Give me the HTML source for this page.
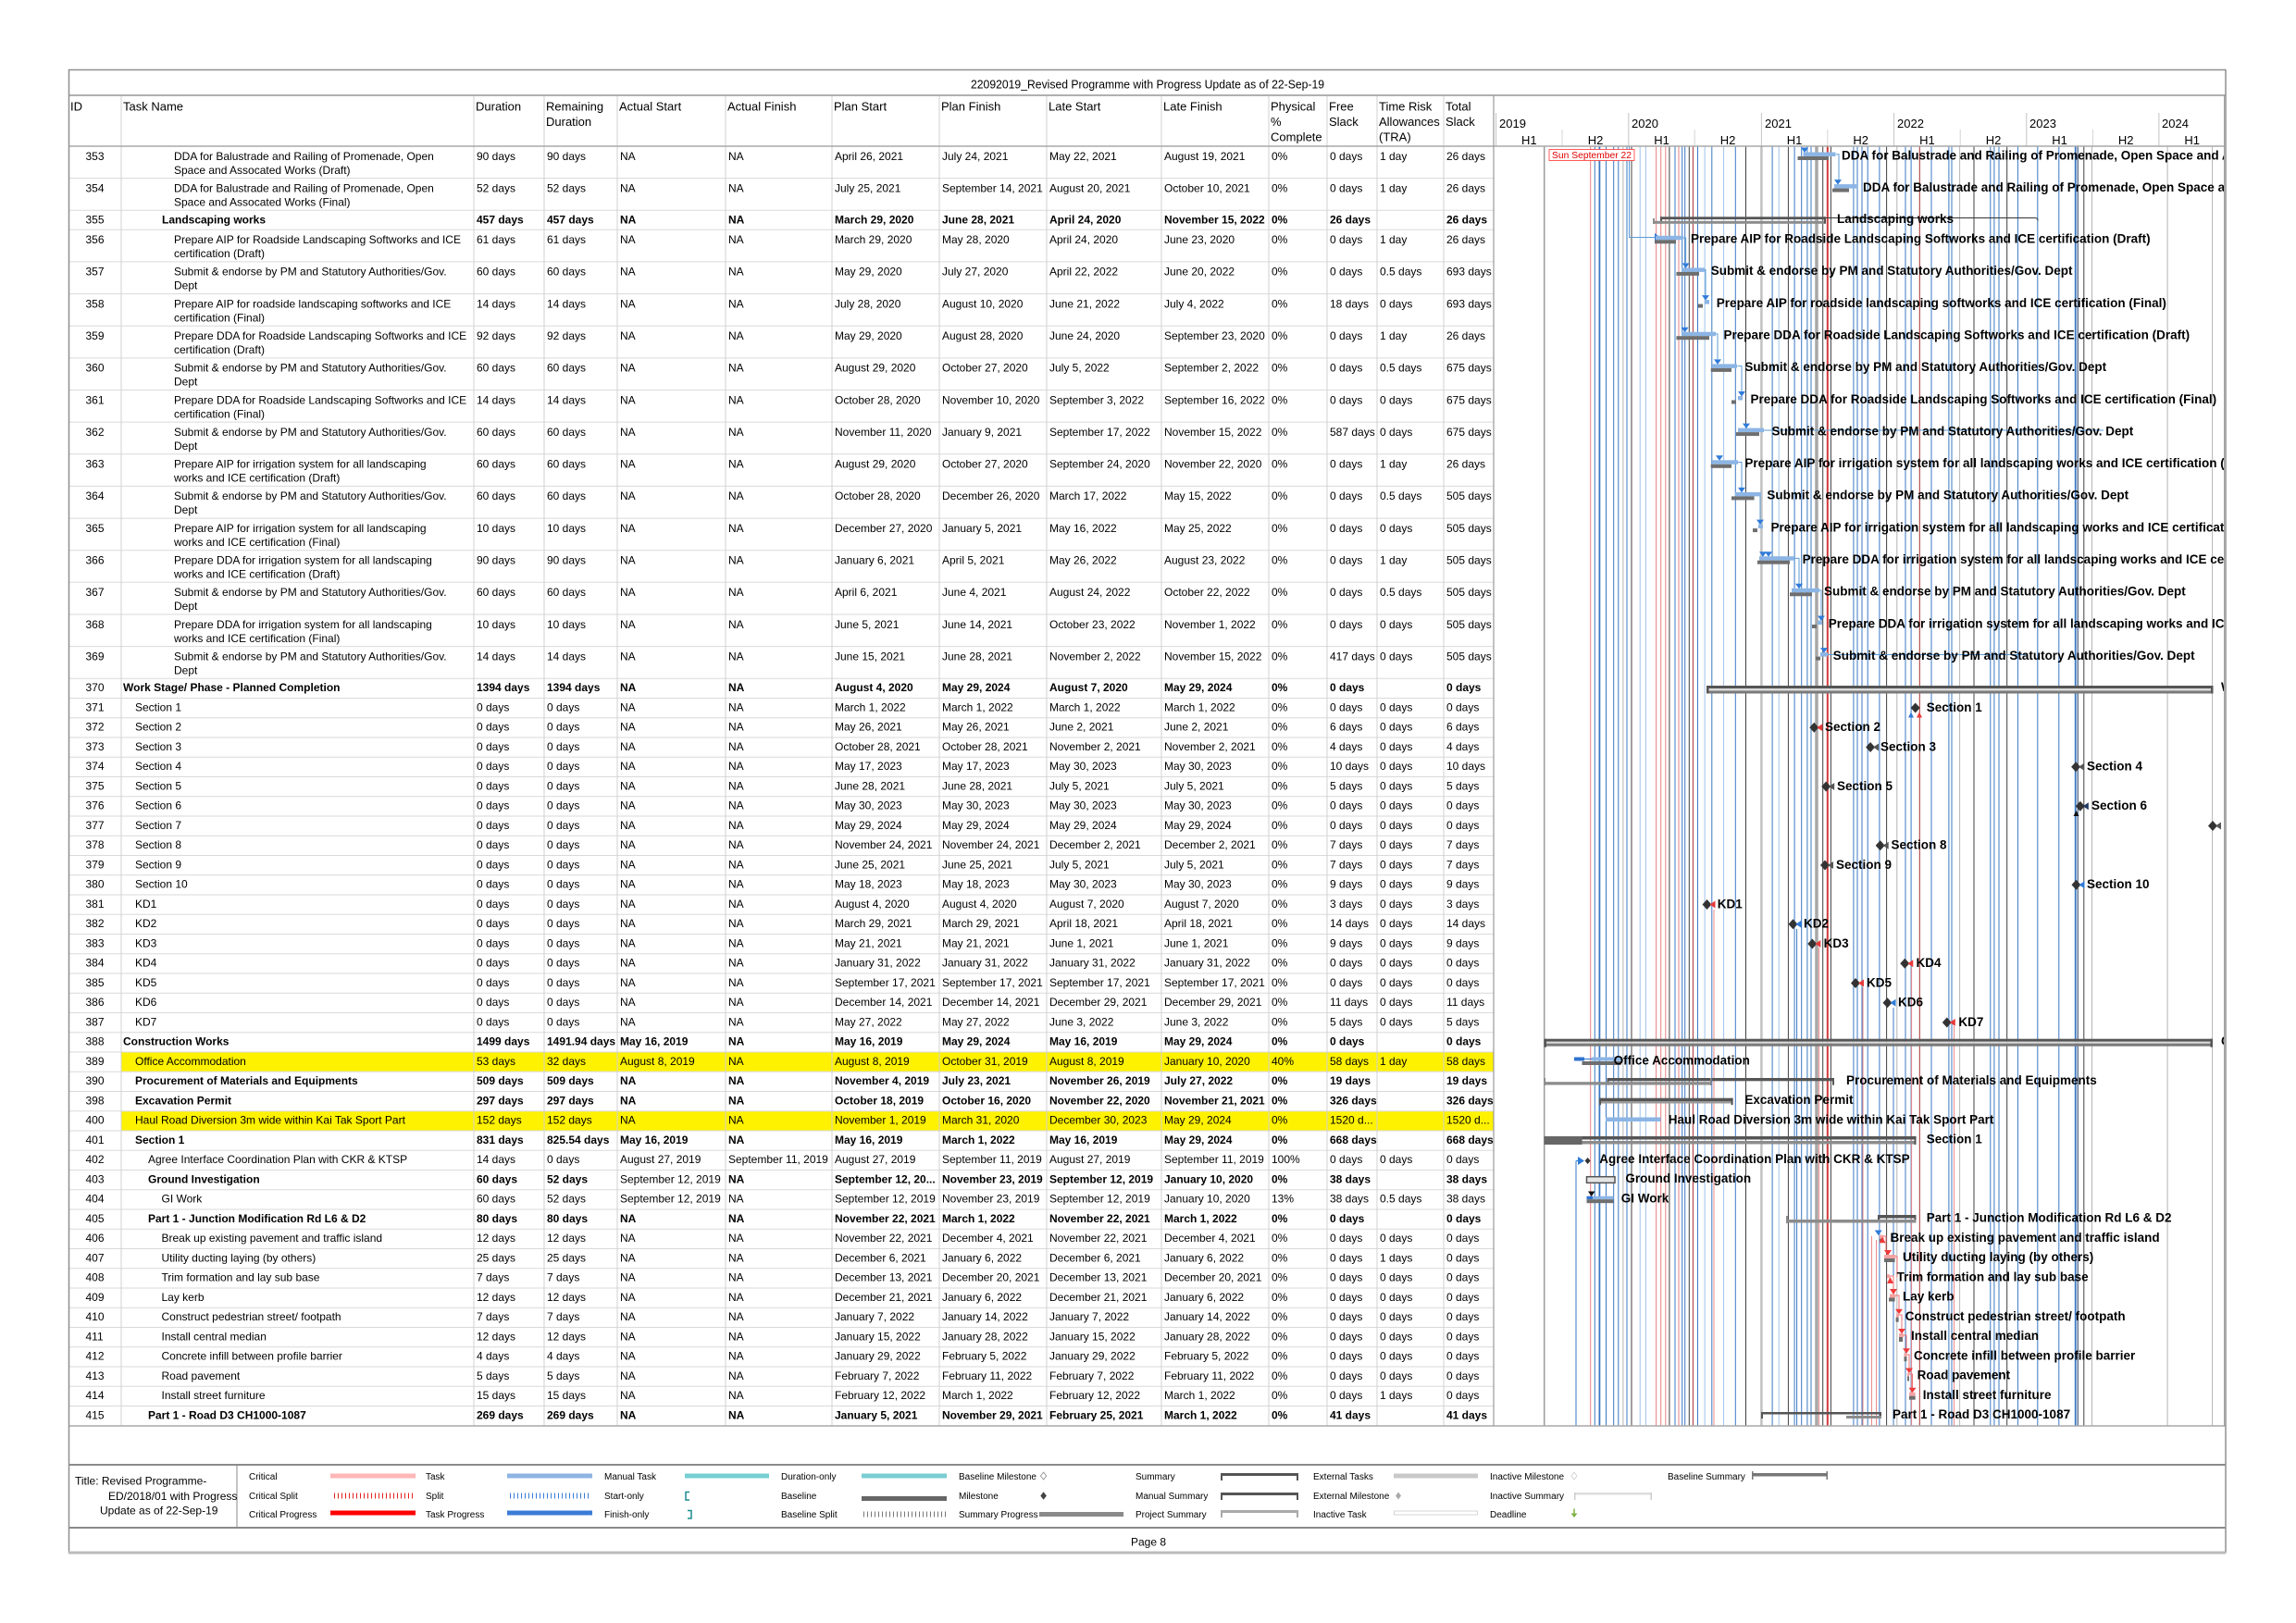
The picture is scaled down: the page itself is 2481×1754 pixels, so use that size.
<!DOCTYPE html>
<html><head><meta charset="utf-8">
<style>
html,body{margin:0;padding:0;background:#fff}
svg{display:block}
text{font-family:"Liberation Sans",Arial,sans-serif;font-size:12px;fill:#000}
text.b,.b{font-weight:bold}
tspan.n{font-weight:normal}
.hd{font-size:13px}
.g{font-weight:bold;font-size:13.5px}
.lg{font-size:10px}
.bl{fill:#8CB5E5}
.gr{fill:#6E6E6E}
.tb{fill:#2F7BD9}
.pk{fill:#F4A3A3}
.rd{fill:#F03A3A}
.sm{fill:#555}
.bs{fill:#8C8C8C}
.dk{fill:#333}
</style></head><body>
<svg xmlns="http://www.w3.org/2000/svg" width="2481" height="1754" viewBox="0 0 2481 1754">
<rect x="0" y="0" width="2481" height="1754" fill="#fff"/>

<!-- yellow highlighted rows -->
<rect x="131.5" y="1137.5" width="1482" height="20.3" fill="#FFF200"/>
<rect x="131.5" y="1201.2" width="1482" height="20.3" fill="#FFF200"/>

<!-- table grid -->
<path d="M74 192.6H1614M74 227.3H1614M74 248.3H1614M74 282.9H1614M74 317.6H1614M74 352.2H1614M74 386.9H1614M74 421.5H1614M74 456.1H1614M74 490.8H1614M74 525.4H1614M74 560.1H1614M74 594.7H1614M74 629.3H1614M74 664H1614M74 698.6H1614M74 733.2H1614M74 754.5H1614M74 775.7H1614M74 797H1614M74 818.2H1614M74 839.5H1614M74 860.7H1614M74 882H1614M74 903.2H1614M74 924.5H1614M74 945.7H1614M74 967H1614M74 988.2H1614M74 1009.5H1614M74 1030.7H1614M74 1052H1614M74 1073.2H1614M74 1094.5H1614M74 1115.7H1614M74 1137H1614M74 1158.2H1614M74 1179.5H1614M74 1200.7H1614M74 1222H1614M74 1243.2H1614M74 1264.5H1614M74 1285.7H1614M74 1307H1614M74 1328.2H1614M74 1349.5H1614M74 1370.7H1614M74 1392H1614M74 1413.2H1614M74 1434.5H1614M74 1455.7H1614M74 1477H1614M74 1498.2H1614M74 1519.5H1614" stroke="#DADADA" stroke-width="1" fill="none"/>
<path d="M131 103V1541M512 103V1541M588 103V1541M667 103V1541M784 103V1541M899 103V1541M1015 103V1541M1131 103V1541M1255 103V1541M1371 103V1541M1434 103V1541M1488 103V1541M1560 103V1541" stroke="#D0D0D0" stroke-width="1" fill="none"/>

<!-- Gantt header separators -->
<path d="M1616.6 122V158M1759.8 122V158M1903.4 122V158M2046.6 122V158M2189.8 122V158M2332.9 122V158" stroke="#C4C4C4" stroke-width="1"/>
<path d="M1688 140V158M1831.2 140V158M1974.8 140V158M2118.2 140V158M2261.4 140V158" stroke="#D4D4D4" stroke-width="1"/>

<!-- Gantt vertical link lines -->
<path d="M1668.7 158V1541" stroke="#9A9A9A" stroke-width="1.5"/>
<path d="M1753.9 158V1541M2049.8 158V1541M2117.6 158V1541M2260.5 158V1541M2342.1 158V1541M2390.6 158V1541" stroke="#B5B5B5" stroke-width="1"/>
<path d="M1903.4 158V1541" stroke="#C0C0C0" stroke-width="2.5"/>
<path d="M1963 158V1541" stroke="#A8A8A8" stroke-width="3.5"/>
<path d="M1723.3 158V1541M1735.5 158V1541M1743.7 158V1541M1748.8 158V1541M1758 158V1541M1810 158V1541M1817.7 158V1541M1820.7 158V1541M1834.5 158V1541M1849.8 158V1541M1875.3 158V1541M1915.1 158V1541M1939.1 158V1541M1946.7 158V1541M1952.9 158V1541M1957 158V1541M2002.9 158V1541M2007 158V1541M2012 158V1541M2018.2 158V1541M2030.9 158V1541M2059 158V1541M2065.1 158V1541M2087 158V1541M2105.9 158V1541M2109 158V1541M2150.8 158V1541M2154.9 158V1541M2160 158V1541M2180.4 158V1541M2201.8 158V1541M2224.8 158V1541" stroke="#3A78C3" stroke-width="1"/>
<path d="M1728.4 158V1541M2242.7 158V1541" stroke="#3A78C3" stroke-width="1.8"/>
<path d="M2245.2 158V1541" stroke="#1F3864" stroke-width="1"/>
<path d="M1772.2 158V1541M1778.4 158V1541M1842.1 158V1541M1862.6 158V1541M1922.2 158V1541" stroke="#9FC3EA" stroke-width="1"/>
<path d="M1718.7 158V1541M1789.6 158V1541M1794.7 158V1541M1799.8 158V1541M1814 158V1541" stroke="#E88080" stroke-width="1"/>
<path d="M1829.4 158V1541M2074.3 158V1541" stroke="#A83030" stroke-width="1"/>
<path d="M1974.8 158V1541" stroke="#D03A3A" stroke-width="2"/>
<path d="M1763 158V1541M1803.9 158V1541M1825.3 158V1541M1886.5 158V1541M1932.4 158V1541M1969.7 158V1541M1978.4 158V1541M2038.6 158V1541M2133 158V1541M2168.7 158V1541M2251.8 158V1541" stroke="#404040" stroke-width="1"/>
<!-- milestone successor lines -->
<path d="M1852 983V1541M1965.6 1024V1541M2065.6 1046V1541M2013 1067V1541M2111.5 1109V1541M2022.5 1336V1541M2027.5 1340V1541" stroke="#EE8A8A" stroke-width="1"/>
<path d="M1941.6 1004V1541M2046 1089V1541M1703 1254.5V1541" stroke="#3A78C3" stroke-width="1"/>
<!-- connectors -->
<path d="M1760.5 158V256.5H1788M1984 166.7H1987V194M1819 257H1821.6V284M1842 291.5H1843V319M1854 360.9H1856V388M1877.5 395.6H1882V423M1878 499.5H1882V527M1903 534H1902V562M1939 603.4H1944V631M1966 638H1968V666M1906 465H2273M1975 707.5H2191" stroke="#5B9BD5" stroke-width="1" fill="none"/>
<path d="M1973 235.5H2199Q2202 235.5 2202 238.5" stroke="#333" stroke-width="1" fill="none"/>
<path d="M2035.6 1336H2038V1352M2048.6 1358H2050V1380M2042 1379H2046V1394M2048.5 1400H2052V1415M2052 1421H2055V1437M2057 1443H2060V1458M2060.3 1464H2063V1479M2063 1485H2066.5V1500" stroke="#EE7070" stroke-width="1" fill="none"/>

<!-- status date box -->
<rect x="1674" y="161.5" width="92" height="12" fill="#fff" stroke="#FF3333" stroke-width="0.8"/>
<text x="1677" y="171" font-size="10.5" textLength="86" lengthAdjust="spacingAndGlyphs" style="fill:#E00000;font-size:10.5px">Sun September 22</text>

<!-- ================= Gantt bars ================= -->
<!-- 353 -->
<polygon class="tb" points="1946,159.5 1954,159.5 1950,165"/>
<rect class="bl" x="1948.5" y="164.5" width="35" height="4.5"/>
<rect class="gr" x="1942.5" y="169" width="33.5" height="4"/>
<text class="g" x="1990" y="172.3">DDA for Balustrade and Railing of Promenade, Open Space and Assocated Works (Draft)</text>
<!-- 354 -->
<polygon class="tb" points="1982,194.1 1990,194.1 1986,199.6"/>
<rect class="bl" x="1982" y="199.1" width="24" height="4.5"/>
<rect class="gr" x="1980" y="203.6" width="18" height="4"/>
<text class="g" x="2013" y="206.9">DDA for Balustrade and Railing of Promenade, Open Space and Assocated Works (Final)</text>
<!-- 355 summary -->
<rect class="sm" x="1794" y="234.3" width="179" height="2.8"/>
<rect class="sm" x="1794" y="234.3" width="2" height="7.5"/>
<rect class="sm" x="1971" y="234.3" width="2" height="7.5"/>
<rect class="bs" x="1786" y="238.8" width="185" height="3"/>
<rect class="bs" x="1786" y="236" width="2" height="6"/>
<text class="g" x="1985" y="241">Landscaping works</text>
<!-- 356 -->
<polygon class="tb" points="1788,252 1788,261 1794,256.5"/>
<rect class="bl" x="1789" y="254.8" width="30" height="4.5"/>
<rect class="gr" x="1788" y="259.3" width="23" height="4"/>
<text class="g" x="1827" y="262.6">Prepare AIP for Roadside Landscaping Softworks and ICE certification (Draft)</text>
<!-- 357 -->
<polygon class="tb" points="1817.6,284.4 1825.6,284.4 1821.6,289.9"/>
<rect class="bl" x="1817" y="289.4" width="25" height="4.5"/>
<rect class="gr" x="1811.5" y="293.9" width="24.5" height="4"/>
<text class="g" x="1848.7" y="297.2">Submit &amp; endorse by PM and Statutory Authorities/Gov. Dept</text>
<!-- 358 -->
<polygon class="tb" points="1839,319.1 1847,319.1 1843,324.6"/>
<rect class="bl" x="1842" y="324.1" width="5" height="4.5"/>
<rect class="gr" x="1835" y="328.6" width="5" height="4"/>
<text class="g" x="1854.8" y="331.9">Prepare AIP for roadside landscaping softworks and ICE certification (Final)</text>
<!-- 359 -->
<polygon class="tb" points="1816.6,353.7 1824.6,353.7 1820.6,359.2"/>
<rect class="bl" x="1817" y="358.7" width="37" height="4.5"/>
<rect class="gr" x="1811.5" y="363.2" width="35.5" height="4"/>
<text class="g" x="1862.5" y="366.5">Prepare DDA for Roadside Landscaping Softworks and ICE certification (Draft)</text>
<!-- 360 -->
<polygon class="tb" points="1852,388.4 1860,388.4 1856,393.9"/>
<rect class="bl" x="1850" y="393.4" width="27" height="4.5"/>
<rect class="gr" x="1848.7" y="397.9" width="22.3" height="4"/>
<text class="g" x="1885.4" y="401.2">Submit &amp; endorse by PM and Statutory Authorities/Gov. Dept</text>
<!-- 361 -->
<polygon class="tb" points="1878,423 1886,423 1882,428.5"/>
<rect class="bl" x="1878" y="428" width="5" height="4.5"/>
<rect class="gr" x="1871" y="432.5" width="5" height="4"/>
<text class="g" x="1891.5" y="435.8">Prepare DDA for Roadside Landscaping Softworks and ICE certification (Final)</text>
<!-- 362 -->
<polygon class="tb" points="1883,457.6 1891,457.6 1887,463.1"/>
<rect class="bl" x="1878" y="462.6" width="28" height="4.5"/>
<rect class="gr" x="1876" y="467.1" width="25" height="4"/>
<text class="g" x="1914.5" y="470.4">Submit &amp; endorse by PM and Statutory Authorities/Gov. Dept</text>
<!-- 363 -->
<polygon class="tb" points="1854,492.3 1862,492.3 1858,497.8"/>
<rect class="bl" x="1850" y="497.3" width="28" height="4.5"/>
<rect class="gr" x="1848.7" y="501.8" width="22.3" height="4"/>
<text class="g" x="1885.4" y="505.1">Prepare AIP for irrigation system for all landscaping works and ICE certification (Draft)</text>
<!-- 364 -->
<polygon class="tb" points="1878,526.9 1886,526.9 1882,532.4"/>
<rect class="bl" x="1875" y="531.9" width="28" height="4.5"/>
<rect class="gr" x="1871" y="536.4" width="24.6" height="4"/>
<text class="g" x="1909.4" y="539.7">Submit &amp; endorse by PM and Statutory Authorities/Gov. Dept</text>
<!-- 365 -->
<polygon class="tb" points="1898,561.6 1906,561.6 1902,567.1"/>
<rect class="bl" x="1900" y="566.6" width="5" height="4.5"/>
<rect class="gr" x="1894" y="571.1" width="5" height="4"/>
<text class="g" x="1913.5" y="574.4">Prepare AIP for irrigation system for all landscaping works and ICE certification (Final)</text>
<!-- 366 -->
<polygon class="tb" points="1901,596.2 1909,596.2 1905,601.7"/>
<polygon class="tb" points="1907,596.2 1915,596.2 1911,601.7"/>
<rect class="bl" x="1901" y="601.2" width="38" height="4.5"/>
<rect class="gr" x="1899" y="605.7" width="35" height="4"/>
<text class="g" x="1947.6" y="609">Prepare DDA for irrigation system for all landscaping works and ICE certification (Draft)</text>
<!-- 367 -->
<polygon class="tb" points="1940,630.8 1948,630.8 1944,636.3"/>
<rect class="bl" x="1936" y="635.8" width="30" height="4.5"/>
<rect class="gr" x="1934" y="640.3" width="24" height="4"/>
<text class="g" x="1971" y="643.6">Submit &amp; endorse by PM and Statutory Authorities/Gov. Dept</text>
<!-- 368 -->
<polygon class="tb" points="1964,665.5 1972,665.5 1968,671"/>
<rect class="bl" x="1964" y="670.5" width="5" height="4.5"/>
<rect class="gr" x="1958" y="675" width="5" height="4"/>
<text class="g" x="1975.7" y="678.3">Prepare DDA for irrigation system for all landscaping works and ICE certification (Final)</text>
<!-- 369 -->
<polygon class="tb" points="1967,700.1 1975,700.1 1971,705.6"/>
<rect class="bl" x="1967" y="705.1" width="8" height="4.5"/>
<rect class="gr" x="1962" y="709.6" width="5" height="4"/>
<text class="g" x="1980.8" y="712.9">Submit &amp; endorse by PM and Statutory Authorities/Gov. Dept</text>
<!-- 370 -->
<rect x="1844.5" y="741" width="547" height="3" fill="#555"/>
<rect x="1844.5" y="744" width="547" height="2.5" fill="#DADADA"/>
<rect x="1844.5" y="746.5" width="547" height="3" fill="#7A7A7A"/>
<rect x="1844" y="741" width="2.5" height="8.5" fill="#555"/>
<rect x="2389" y="741" width="2.5" height="8.5" fill="#555"/>
<text class="g" x="2400" y="746.9">Work Stage/ Phase - Planned Completion</text>

<!-- milestones 371-387 -->
<polygon class="dk" points="2064.7,765 2069.7,759.5 2074.7,765 2069.7,770.5"/>
<polygon points="2062,775.5 2068,775.5 2065,769.5" fill="#2F7BD9"/>
<polygon points="2071,775.5 2077,775.5 2074,769.5" fill="#E83A3A"/>
<text class="g" x="2081.7" y="769">Section 1</text>

<polygon class="dk" points="1955.3,786.2 1960.3,780.7 1965.3,786.2 1960.3,791.7"/>
<polygon points="1969.3,782.2 1969.3,790.2 1963.3,786.2" fill="#E83A3A"/>
<text class="g" x="1972" y="790.2">Section 2</text>

<polygon class="dk" points="2016.1,807.5 2021.1,802 2026.1,807.5 2021.1,813"/>
<polygon points="2030.1,803.5 2030.1,811.5 2024.1,807.5" fill="#555"/>
<text class="g" x="2032" y="811.5">Section 3</text>

<polygon class="dk" points="2238.1,828.7 2243.1,823.2 2248.1,828.7 2243.1,834.2"/>
<polygon points="2252.1,824.7 2252.1,832.7 2246.1,828.7" fill="#555"/>
<text class="g" x="2255" y="832.7">Section 4</text>

<polygon class="dk" points="1968.2,850 1973.2,844.5 1978.2,850 1973.2,855.5"/>
<polygon points="1982.2,846 1982.2,854 1976.2,850" fill="#555"/>
<text class="g" x="1985" y="854">Section 5</text>

<polygon class="dk" points="2242.8,871.2 2247.8,865.7 2252.8,871.2 2247.8,876.7"/>
<polygon points="2256.8,867.2 2256.8,875.2 2250.8,871.2" fill="#1F3864"/>
<polygon points="2240.5,882 2246.5,882 2243.5,876" fill="#111"/>
<text class="g" x="2260" y="875.2">Section 6</text>

<polygon class="dk" points="2386,892.5 2391,887 2396,892.5 2391,898"/>
<polygon points="2400,888.5 2400,896.5 2394,892.5" fill="#555"/>
<text class="g" x="2403" y="896.5">Section 7</text>

<polygon class="dk" points="2026.7,913.7 2031.7,908.2 2036.7,913.7 2031.7,919.2"/>
<polygon points="2040.7,909.7 2040.7,917.7 2034.7,913.7" fill="#555"/>
<text class="g" x="2043.5" y="917.7">Section 8</text>

<polygon class="dk" points="1967,935 1972,929.5 1977,935 1972,940.5"/>
<polygon points="1981,931 1981,939 1975,935" fill="#555"/>
<text class="g" x="1984" y="939">Section 9</text>

<polygon class="dk" points="2238.5,956.2 2243.5,950.7 2248.5,956.2 2243.5,961.7"/>
<polygon points="2252.5,952.2 2252.5,960.2 2246.5,956.2" fill="#2F7BD9"/>
<text class="g" x="2255" y="960.2">Section 10</text>

<polygon class="dk" points="1839.5,977.5 1844.5,972 1849.5,977.5 1844.5,983"/>
<polygon points="1853.5,973.5 1853.5,981.5 1847.5,977.5" fill="#E83A3A"/>
<text class="g" x="1855.8" y="981.5">KD1</text>

<polygon class="dk" points="1932.5,998.7 1937.5,993.2 1942.5,998.7 1937.5,1004.2"/>
<polygon points="1946.5,994.7 1946.5,1002.7 1940.5,998.7" fill="#2F7BD9"/>
<text class="g" x="1949" y="1002.7">KD2</text>

<polygon class="dk" points="1953.3,1020 1958.3,1014.5 1963.3,1020 1958.3,1025.5"/>
<polygon points="1967.3,1016 1967.3,1024 1961.3,1020" fill="#E83A3A"/>
<text class="g" x="1970.6" y="1024">KD3</text>

<polygon class="dk" points="2053.3,1041.2 2058.3,1035.7 2063.3,1041.2 2058.3,1046.7"/>
<polygon points="2067.3,1037.2 2067.3,1045.2 2061.3,1041.2" fill="#E83A3A"/>
<text class="g" x="2070.5" y="1045.2">KD4</text>

<polygon class="dk" points="2000,1062.5 2005,1057 2010,1062.5 2005,1068"/>
<polygon points="2014,1058.5 2014,1066.5 2008,1062.5" fill="#E83A3A"/>
<text class="g" x="2017" y="1066.5">KD5</text>

<polygon class="dk" points="2034.5,1083.7 2039.5,1078.2 2044.5,1083.7 2039.5,1089.2"/>
<polygon points="2048.5,1079.7 2048.5,1087.7 2042.5,1083.7" fill="#2F7BD9"/>
<text class="g" x="2051" y="1087.7">KD6</text>

<polygon class="dk" points="2098.8,1105 2103.8,1099.5 2108.8,1105 2103.8,1110.5"/>
<polygon points="2112.8,1101 2112.8,1109 2106.8,1105" fill="#E83A3A"/>
<text class="g" x="2116.4" y="1109">KD7</text>

<!-- 388 -->
<rect x="1669" y="1122.7" width="722" height="3" fill="#555"/>
<rect x="1669" y="1125.7" width="722" height="2" fill="#D8D8D8"/>
<rect x="1669" y="1127.7" width="722" height="3" fill="#7A7A7A"/>
<rect x="1668.5" y="1122.7" width="2.5" height="9" fill="#555"/>
<rect x="2388.5" y="1122.7" width="2.5" height="9" fill="#555"/>
<text class="g" x="2400" y="1129.4">Construction Works</text>
<!-- 389 -->
<rect x="1701" y="1142.5" width="11" height="4" fill="#2F74D0"/>
<path d="M1712 1144.5H1720" stroke="#2F74D0" stroke-width="1"/>
<rect class="bl" x="1719.6" y="1142.5" width="32.4" height="4"/>
<rect class="gr" x="1709.5" y="1147" width="42.3" height="4"/>
<text class="g" x="1743.6" y="1150.7">Office Accommodation</text>
<!-- 390 -->
<rect class="sm" x="1736.5" y="1165" width="245.5" height="3.3"/>
<rect class="sm" x="1736.5" y="1165" width="2" height="7.7"/>
<rect class="sm" x="1980" y="1165" width="2" height="7.7"/>
<rect class="bs" x="1668.6" y="1169.2" width="181" height="3.3"/>
<rect class="bs" x="1668.6" y="1165" width="1.5" height="8"/>
<rect class="bs" x="1848" y="1165" width="1.5" height="8"/>
<text class="g" x="1995" y="1171.9">Procurement of Materials and Equipments</text>
<!-- 398 -->
<rect class="sm" x="1728" y="1186.7" width="144.6" height="3.3"/>
<rect x="1728" y="1190" width="144.6" height="2.5" fill="#999"/>
<rect class="sm" x="1728" y="1186.7" width="2" height="7.5"/>
<rect class="sm" x="1870.6" y="1186.7" width="2" height="7.5"/>
<text class="g" x="1885.4" y="1193.2">Excavation Permit</text>
<!-- 400 -->
<rect class="bl" x="1735" y="1207.5" width="59.6" height="4.5"/>
<text class="g" x="1802.8" y="1214.4">Haul Road Diversion 3m wide within Kai Tak Sport Part</text>
<!-- 401 -->
<rect class="sm" x="1668.6" y="1228" width="402" height="3.5"/>
<rect x="1668.6" y="1228" width="41" height="9" fill="#666"/>
<rect class="bs" x="1709.5" y="1233" width="359.5" height="3.5"/>
<rect class="sm" x="2068.5" y="1228" width="2" height="9"/>
<text class="g" x="2081.7" y="1235.7">Section 1</text>
<!-- 402 -->
<path d="M1703 1254.5H1705" stroke="#2F7BD9" stroke-width="1"/>
<polygon class="tb" points="1705,1250 1705,1259 1712,1254.5"/>
<polygon class="dk" points="1712.6,1254.5 1715.6,1251 1718.6,1254.5 1715.6,1258"/>
<text class="g" x="1728.3" y="1256.9">Agree Interface Coordination Plan with CKR &amp; KTSP</text>
<!-- 403 -->
<rect x="1714.5" y="1271.7" width="30.5" height="6.6" fill="#E5E5E5" stroke="#555" stroke-width="1.5"/>
<text class="g" x="1756.4" y="1278.2">Ground Investigation</text>
<!-- 404 -->
<polygon points="1716,1287.5 1723.5,1287.5 1719.7,1293" fill="#111"/>
<rect x="1714.5" y="1292.7" width="6.5" height="3.5" fill="#2F74D0"/>
<rect class="bl" x="1721" y="1292.7" width="22.6" height="3.5"/>
<rect class="gr" x="1714.5" y="1296.2" width="29" height="4"/>
<text class="g" x="1751.8" y="1299.4">GI Work</text>
<!-- 405 -->
<rect class="sm" x="2029" y="1313" width="41.5" height="3.5"/>
<rect class="sm" x="2029" y="1313" width="2" height="8"/>
<rect class="sm" x="2068.5" y="1313" width="2" height="8"/>
<rect class="bs" x="1930" y="1318" width="140.5" height="3.5"/>
<rect class="bs" x="1930" y="1314" width="2" height="8"/>
<text class="g" x="2081.7" y="1320.7">Part 1 - Junction Modification Rd L6 &amp; D2</text>
<!-- 406 -->
<polygon class="tb" points="2025.7,1329.5 2033.7,1329.5 2029.7,1335"/>
<rect class="pk" x="2030.9" y="1334.7" width="4.7" height="4"/>
<rect class="gr" x="2030.9" y="1338.7" width="4.7" height="4"/>
<polygon class="rd" points="2030.5,1343.2 2037.5,1343.2 2034,1336.7"/>
<text class="g" x="2042.5" y="1341.9">Break up existing pavement and traffic island</text>
<!-- 407 -->
<polygon class="rd" points="2036,1351 2044,1351 2040,1357"/>
<rect class="pk" x="2036" y="1356" width="12.6" height="4"/>
<rect class="gr" x="2036" y="1360" width="11.6" height="4"/>
<text class="g" x="2056" y="1363.2">Utility ducting laying (by others)</text>
<!-- 408 -->
<rect class="pk" x="2039" y="1377.2" width="3" height="4"/>
<polygon class="rd" points="2039,1387 2046,1387 2042.5,1380"/>
<text class="g" x="2049.6" y="1384.4">Trim formation and lay sub base</text>
<!-- 409 -->
<polygon class="rd" points="2042,1393 2050,1393 2046,1399"/>
<rect class="pk" x="2042" y="1398.5" width="6.5" height="4"/>
<rect class="gr" x="2041" y="1402.5" width="6.6" height="4"/>
<text class="g" x="2056" y="1405.7">Lay kerb</text>
<!-- 410 -->
<polygon class="rd" points="2048,1414.7 2056,1414.7 2052,1420.2"/>
<rect class="pk" x="2049" y="1419.7" width="3" height="4"/>
<rect class="gr" x="2048.6" y="1423.7" width="3" height="5"/>
<text class="g" x="2058.8" y="1426.9">Construct pedestrian street/ footpath</text>
<!-- 411 -->
<polygon class="rd" points="2051,1436 2059,1436 2055,1441.5"/>
<rect class="pk" x="2052" y="1441" width="5" height="4"/>
<rect class="gr" x="2052" y="1445" width="4" height="5"/>
<text class="g" x="2065" y="1448.2">Install central median</text>
<!-- 412 -->
<polygon class="rd" points="2056,1457.2 2064,1457.2 2060,1462.7"/>
<rect class="pk" x="2057.5" y="1462.2" width="3" height="4"/>
<rect class="gr" x="2057.5" y="1466.2" width="3" height="5"/>
<text class="g" x="2068" y="1469.4">Concrete infill between profile barrier</text>
<!-- 413 -->
<polygon class="rd" points="2059,1478.5 2067,1478.5 2063,1484"/>
<rect class="pk" x="2061" y="1483.5" width="2" height="4"/>
<rect class="gr" x="2061" y="1487.5" width="2" height="5"/>
<text class="g" x="2071.6" y="1490.7">Road pavement</text>
<!-- 414 -->
<polygon class="rd" points="2062.5,1499.7 2070.5,1499.7 2066.5,1505.2"/>
<rect class="pk" x="2063" y="1504.7" width="6.7" height="4"/>
<rect class="gr" x="2063" y="1508.7" width="6.7" height="4"/>
<text class="g" x="2077.7" y="1511.9">Install street furniture</text>
<!-- 415 -->
<rect class="sm" x="1903" y="1526" width="130" height="2.5"/>
<rect class="sm" x="1903" y="1526" width="2" height="7"/>
<rect class="sm" x="2031" y="1526" width="2" height="7"/>
<rect class="bs" x="1995" y="1530" width="38" height="3"/>
<text class="g" x="2045" y="1533.2">Part 1 - Road D3 CH1000-1087</text>

<!-- cover overflow at right of Gantt -->
<rect x="2404" y="100" width="77" height="1445" fill="#fff"/>

<!-- ================= Table text ================= -->
<text x="1240" y="95.5" text-anchor="middle" textLength="382" lengthAdjust="spacingAndGlyphs" style="font-size:12.5px">22092019_Revised Programme with Progress Update as of 22-Sep-19</text>

<text class="hd" y="119.5"><tspan x="76">ID</tspan><tspan x="133">Task Name</tspan><tspan x="514">Duration</tspan><tspan x="590">Remaining</tspan><tspan x="669">Actual Start</tspan><tspan x="786">Actual Finish</tspan><tspan x="901">Plan Start</tspan><tspan x="1017">Plan Finish</tspan><tspan x="1133">Late Start</tspan><tspan x="1257">Late Finish</tspan><tspan x="1373">Physical</tspan><tspan x="1436">Free</tspan><tspan x="1490">Time Risk</tspan><tspan x="1562">Total</tspan></text>
<text class="hd" y="136"><tspan x="590">Duration</tspan><tspan x="1373">%</tspan><tspan x="1436">Slack</tspan><tspan x="1490">Allowances</tspan><tspan x="1562">Slack</tspan></text>
<text class="hd" y="152.5"><tspan x="1373">Complete</tspan><tspan x="1490">(TRA)</tspan></text>

<text class="hd" y="138"><tspan x="1620">2019</tspan><tspan x="1763">2020</tspan><tspan x="1907">2021</tspan><tspan x="2050">2022</tspan><tspan x="2193">2023</tspan><tspan x="2336">2024</tspan></text>
<text class="hd" y="156"><tspan x="1644">H1</tspan><tspan x="1715.7">H2</tspan><tspan x="1787.2">H1</tspan><tspan x="1858.7">H2</tspan><tspan x="1930.7">H1</tspan><tspan x="2002.4">H2</tspan><tspan x="2074.1">H1</tspan><tspan x="2145.7">H2</tspan><tspan x="2217.3">H1</tspan><tspan x="2288.9">H2</tspan><tspan x="2360.4">H1</tspan></text>

<!-- rows -->
<text y="172.8"><tspan x="92.5">353</tspan><tspan x="188">DDA for Balustrade and Railing of Promenade, Open</tspan><tspan x="515">90 days</tspan><tspan x="591">90 days</tspan><tspan x="670">NA</tspan><tspan x="787">NA</tspan><tspan x="902">April 26, 2021</tspan><tspan x="1018">July 24, 2021</tspan><tspan x="1134">May 22, 2021</tspan><tspan x="1258">August 19, 2021</tspan><tspan x="1374">0%</tspan><tspan x="1437">0 days</tspan><tspan x="1491">1 day</tspan><tspan x="1563">26 days</tspan></text>
<text x="188" y="187.8">Space and Assocated Works (Draft)</text>

<text y="207.4"><tspan x="92.5">354</tspan><tspan x="188">DDA for Balustrade and Railing of Promenade, Open</tspan><tspan x="515">52 days</tspan><tspan x="591">52 days</tspan><tspan x="670">NA</tspan><tspan x="787">NA</tspan><tspan x="902">July 25, 2021</tspan><tspan x="1018">September 14, 2021</tspan><tspan x="1134">August 20, 2021</tspan><tspan x="1258">October 10, 2021</tspan><tspan x="1374">0%</tspan><tspan x="1437">0 days</tspan><tspan x="1491">1 day</tspan><tspan x="1563">26 days</tspan></text>
<text x="188" y="222.4">Space and Assocated Works (Final)</text>

<text class="b" y="241.3"><tspan x="92.5" class="n">355</tspan><tspan x="175">Landscaping works</tspan><tspan x="515">457 days</tspan><tspan x="591">457 days</tspan><tspan x="670">NA</tspan><tspan x="787">NA</tspan><tspan x="902">March 29, 2020</tspan><tspan x="1018">June 28, 2021</tspan><tspan x="1134">April 24, 2020</tspan><tspan x="1258">November 15, 2022</tspan><tspan x="1374">0%</tspan><tspan x="1437">26 days</tspan><tspan x="1563">26 days</tspan></text>

<text y="263.1"><tspan x="92.5">356</tspan><tspan x="188">Prepare AIP for Roadside Landscaping Softworks and ICE</tspan><tspan x="515">61 days</tspan><tspan x="591">61 days</tspan><tspan x="670">NA</tspan><tspan x="787">NA</tspan><tspan x="902">March 29, 2020</tspan><tspan x="1018">May 28, 2020</tspan><tspan x="1134">April 24, 2020</tspan><tspan x="1258">June 23, 2020</tspan><tspan x="1374">0%</tspan><tspan x="1437">0 days</tspan><tspan x="1491">1 day</tspan><tspan x="1563">26 days</tspan></text>
<text x="188" y="278.1">certification (Draft)</text>

<text y="297.7"><tspan x="92.5">357</tspan><tspan x="188">Submit &amp; endorse by PM and Statutory Authorities/Gov.</tspan><tspan x="515">60 days</tspan><tspan x="591">60 days</tspan><tspan x="670">NA</tspan><tspan x="787">NA</tspan><tspan x="902">May 29, 2020</tspan><tspan x="1018">July 27, 2020</tspan><tspan x="1134">April 22, 2022</tspan><tspan x="1258">June 20, 2022</tspan><tspan x="1374">0%</tspan><tspan x="1437">0 days</tspan><tspan x="1491">0.5 days</tspan><tspan x="1563">693 days</tspan></text>
<text x="188" y="312.7">Dept</text>

<text y="332.4"><tspan x="92.5">358</tspan><tspan x="188">Prepare AIP for roadside landscaping softworks and ICE</tspan><tspan x="515">14 days</tspan><tspan x="591">14 days</tspan><tspan x="670">NA</tspan><tspan x="787">NA</tspan><tspan x="902">July 28, 2020</tspan><tspan x="1018">August 10, 2020</tspan><tspan x="1134">June 21, 2022</tspan><tspan x="1258">July 4, 2022</tspan><tspan x="1374">0%</tspan><tspan x="1437">18 days</tspan><tspan x="1491">0 days</tspan><tspan x="1563">693 days</tspan></text>
<text x="188" y="347.4">certification (Final)</text>

<text y="367"><tspan x="92.5">359</tspan><tspan x="188">Prepare DDA for Roadside Landscaping Softworks and ICE</tspan><tspan x="515">92 days</tspan><tspan x="591">92 days</tspan><tspan x="670">NA</tspan><tspan x="787">NA</tspan><tspan x="902">May 29, 2020</tspan><tspan x="1018">August 28, 2020</tspan><tspan x="1134">June 24, 2020</tspan><tspan x="1258">September 23, 2020</tspan><tspan x="1374">0%</tspan><tspan x="1437">0 days</tspan><tspan x="1491">1 day</tspan><tspan x="1563">26 days</tspan></text>
<text x="188" y="382">certification (Draft)</text>

<text y="401.7"><tspan x="92.5">360</tspan><tspan x="188">Submit &amp; endorse by PM and Statutory Authorities/Gov.</tspan><tspan x="515">60 days</tspan><tspan x="591">60 days</tspan><tspan x="670">NA</tspan><tspan x="787">NA</tspan><tspan x="902">August 29, 2020</tspan><tspan x="1018">October 27, 2020</tspan><tspan x="1134">July 5, 2022</tspan><tspan x="1258">September 2, 2022</tspan><tspan x="1374">0%</tspan><tspan x="1437">0 days</tspan><tspan x="1491">0.5 days</tspan><tspan x="1563">675 days</tspan></text>
<text x="188" y="416.7">Dept</text>

<text y="436.3"><tspan x="92.5">361</tspan><tspan x="188">Prepare DDA for Roadside Landscaping Softworks and ICE</tspan><tspan x="515">14 days</tspan><tspan x="591">14 days</tspan><tspan x="670">NA</tspan><tspan x="787">NA</tspan><tspan x="902">October 28, 2020</tspan><tspan x="1018">November 10, 2020</tspan><tspan x="1134">September 3, 2022</tspan><tspan x="1258">September 16, 2022</tspan><tspan x="1374">0%</tspan><tspan x="1437">0 days</tspan><tspan x="1491">0 days</tspan><tspan x="1563">675 days</tspan></text>
<text x="188" y="451.3">certification (Final)</text>

<text y="470.9"><tspan x="92.5">362</tspan><tspan x="188">Submit &amp; endorse by PM and Statutory Authorities/Gov.</tspan><tspan x="515">60 days</tspan><tspan x="591">60 days</tspan><tspan x="670">NA</tspan><tspan x="787">NA</tspan><tspan x="902">November 11, 2020</tspan><tspan x="1018">January 9, 2021</tspan><tspan x="1134">September 17, 2022</tspan><tspan x="1258">November 15, 2022</tspan><tspan x="1374">0%</tspan><tspan x="1437">587 days</tspan><tspan x="1491">0 days</tspan><tspan x="1563">675 days</tspan></text>
<text x="188" y="485.9">Dept</text>

<text y="505.6"><tspan x="92.5">363</tspan><tspan x="188">Prepare AIP for irrigation system for all landscaping</tspan><tspan x="515">60 days</tspan><tspan x="591">60 days</tspan><tspan x="670">NA</tspan><tspan x="787">NA</tspan><tspan x="902">August 29, 2020</tspan><tspan x="1018">October 27, 2020</tspan><tspan x="1134">September 24, 2020</tspan><tspan x="1258">November 22, 2020</tspan><tspan x="1374">0%</tspan><tspan x="1437">0 days</tspan><tspan x="1491">1 day</tspan><tspan x="1563">26 days</tspan></text>
<text x="188" y="520.6">works and ICE certification (Draft)</text>

<text y="540.2"><tspan x="92.5">364</tspan><tspan x="188">Submit &amp; endorse by PM and Statutory Authorities/Gov.</tspan><tspan x="515">60 days</tspan><tspan x="591">60 days</tspan><tspan x="670">NA</tspan><tspan x="787">NA</tspan><tspan x="902">October 28, 2020</tspan><tspan x="1018">December 26, 2020</tspan><tspan x="1134">March 17, 2022</tspan><tspan x="1258">May 15, 2022</tspan><tspan x="1374">0%</tspan><tspan x="1437">0 days</tspan><tspan x="1491">0.5 days</tspan><tspan x="1563">505 days</tspan></text>
<text x="188" y="555.2">Dept</text>

<text y="574.9"><tspan x="92.5">365</tspan><tspan x="188">Prepare AIP for irrigation system for all landscaping</tspan><tspan x="515">10 days</tspan><tspan x="591">10 days</tspan><tspan x="670">NA</tspan><tspan x="787">NA</tspan><tspan x="902">December 27, 2020</tspan><tspan x="1018">January 5, 2021</tspan><tspan x="1134">May 16, 2022</tspan><tspan x="1258">May 25, 2022</tspan><tspan x="1374">0%</tspan><tspan x="1437">0 days</tspan><tspan x="1491">0 days</tspan><tspan x="1563">505 days</tspan></text>
<text x="188" y="589.9">works and ICE certification (Final)</text>

<text y="609.5"><tspan x="92.5">366</tspan><tspan x="188">Prepare DDA for irrigation system for all landscaping</tspan><tspan x="515">90 days</tspan><tspan x="591">90 days</tspan><tspan x="670">NA</tspan><tspan x="787">NA</tspan><tspan x="902">January 6, 2021</tspan><tspan x="1018">April 5, 2021</tspan><tspan x="1134">May 26, 2022</tspan><tspan x="1258">August 23, 2022</tspan><tspan x="1374">0%</tspan><tspan x="1437">0 days</tspan><tspan x="1491">1 day</tspan><tspan x="1563">505 days</tspan></text>
<text x="188" y="624.5">works and ICE certification (Draft)</text>

<text y="644.1"><tspan x="92.5">367</tspan><tspan x="188">Submit &amp; endorse by PM and Statutory Authorities/Gov.</tspan><tspan x="515">60 days</tspan><tspan x="591">60 days</tspan><tspan x="670">NA</tspan><tspan x="787">NA</tspan><tspan x="902">April 6, 2021</tspan><tspan x="1018">June 4, 2021</tspan><tspan x="1134">August 24, 2022</tspan><tspan x="1258">October 22, 2022</tspan><tspan x="1374">0%</tspan><tspan x="1437">0 days</tspan><tspan x="1491">0.5 days</tspan><tspan x="1563">505 days</tspan></text>
<text x="188" y="659.1">Dept</text>

<text y="678.8"><tspan x="92.5">368</tspan><tspan x="188">Prepare DDA for irrigation system for all landscaping</tspan><tspan x="515">10 days</tspan><tspan x="591">10 days</tspan><tspan x="670">NA</tspan><tspan x="787">NA</tspan><tspan x="902">June 5, 2021</tspan><tspan x="1018">June 14, 2021</tspan><tspan x="1134">October 23, 2022</tspan><tspan x="1258">November 1, 2022</tspan><tspan x="1374">0%</tspan><tspan x="1437">0 days</tspan><tspan x="1491">0 days</tspan><tspan x="1563">505 days</tspan></text>
<text x="188" y="693.8">works and ICE certification (Final)</text>

<text y="713.4"><tspan x="92.5">369</tspan><tspan x="188">Submit &amp; endorse by PM and Statutory Authorities/Gov.</tspan><tspan x="515">14 days</tspan><tspan x="591">14 days</tspan><tspan x="670">NA</tspan><tspan x="787">NA</tspan><tspan x="902">June 15, 2021</tspan><tspan x="1018">June 28, 2021</tspan><tspan x="1134">November 2, 2022</tspan><tspan x="1258">November 15, 2022</tspan><tspan x="1374">0%</tspan><tspan x="1437">417 days</tspan><tspan x="1491">0 days</tspan><tspan x="1563">505 days</tspan></text>
<text x="188" y="728.4">Dept</text>

<text class="b" y="747.2"><tspan x="92.5" class="n">370</tspan><tspan x="133">Work Stage/ Phase - Planned Completion</tspan><tspan x="515">1394 days</tspan><tspan x="591">1394 days</tspan><tspan x="670">NA</tspan><tspan x="787">NA</tspan><tspan x="902">August 4, 2020</tspan><tspan x="1018">May 29, 2024</tspan><tspan x="1134">August 7, 2020</tspan><tspan x="1258">May 29, 2024</tspan><tspan x="1374">0%</tspan><tspan x="1437">0 days</tspan><tspan x="1563">0 days</tspan></text>

<text y="768.5"><tspan x="92.5">371</tspan><tspan x="146">Section 1</tspan><tspan x="515">0 days</tspan><tspan x="591">0 days</tspan><tspan x="670">NA</tspan><tspan x="787">NA</tspan><tspan x="902">March 1, 2022</tspan><tspan x="1018">March 1, 2022</tspan><tspan x="1134">March 1, 2022</tspan><tspan x="1258">March 1, 2022</tspan><tspan x="1374">0%</tspan><tspan x="1437">0 days</tspan><tspan x="1491">0 days</tspan><tspan x="1563">0 days</tspan></text>
<text y="789.7"><tspan x="92.5">372</tspan><tspan x="146">Section 2</tspan><tspan x="515">0 days</tspan><tspan x="591">0 days</tspan><tspan x="670">NA</tspan><tspan x="787">NA</tspan><tspan x="902">May 26, 2021</tspan><tspan x="1018">May 26, 2021</tspan><tspan x="1134">June 2, 2021</tspan><tspan x="1258">June 2, 2021</tspan><tspan x="1374">0%</tspan><tspan x="1437">6 days</tspan><tspan x="1491">0 days</tspan><tspan x="1563">6 days</tspan></text>
<text y="811"><tspan x="92.5">373</tspan><tspan x="146">Section 3</tspan><tspan x="515">0 days</tspan><tspan x="591">0 days</tspan><tspan x="670">NA</tspan><tspan x="787">NA</tspan><tspan x="902">October 28, 2021</tspan><tspan x="1018">October 28, 2021</tspan><tspan x="1134">November 2, 2021</tspan><tspan x="1258">November 2, 2021</tspan><tspan x="1374">0%</tspan><tspan x="1437">4 days</tspan><tspan x="1491">0 days</tspan><tspan x="1563">4 days</tspan></text>
<text y="832.2"><tspan x="92.5">374</tspan><tspan x="146">Section 4</tspan><tspan x="515">0 days</tspan><tspan x="591">0 days</tspan><tspan x="670">NA</tspan><tspan x="787">NA</tspan><tspan x="902">May 17, 2023</tspan><tspan x="1018">May 17, 2023</tspan><tspan x="1134">May 30, 2023</tspan><tspan x="1258">May 30, 2023</tspan><tspan x="1374">0%</tspan><tspan x="1437">10 days</tspan><tspan x="1491">0 days</tspan><tspan x="1563">10 days</tspan></text>
<text y="853.5"><tspan x="92.5">375</tspan><tspan x="146">Section 5</tspan><tspan x="515">0 days</tspan><tspan x="591">0 days</tspan><tspan x="670">NA</tspan><tspan x="787">NA</tspan><tspan x="902">June 28, 2021</tspan><tspan x="1018">June 28, 2021</tspan><tspan x="1134">July 5, 2021</tspan><tspan x="1258">July 5, 2021</tspan><tspan x="1374">0%</tspan><tspan x="1437">5 days</tspan><tspan x="1491">0 days</tspan><tspan x="1563">5 days</tspan></text>
<text y="874.7"><tspan x="92.5">376</tspan><tspan x="146">Section 6</tspan><tspan x="515">0 days</tspan><tspan x="591">0 days</tspan><tspan x="670">NA</tspan><tspan x="787">NA</tspan><tspan x="902">May 30, 2023</tspan><tspan x="1018">May 30, 2023</tspan><tspan x="1134">May 30, 2023</tspan><tspan x="1258">May 30, 2023</tspan><tspan x="1374">0%</tspan><tspan x="1437">0 days</tspan><tspan x="1491">0 days</tspan><tspan x="1563">0 days</tspan></text>
<text y="896"><tspan x="92.5">377</tspan><tspan x="146">Section 7</tspan><tspan x="515">0 days</tspan><tspan x="591">0 days</tspan><tspan x="670">NA</tspan><tspan x="787">NA</tspan><tspan x="902">May 29, 2024</tspan><tspan x="1018">May 29, 2024</tspan><tspan x="1134">May 29, 2024</tspan><tspan x="1258">May 29, 2024</tspan><tspan x="1374">0%</tspan><tspan x="1437">0 days</tspan><tspan x="1491">0 days</tspan><tspan x="1563">0 days</tspan></text>
<text y="917.2"><tspan x="92.5">378</tspan><tspan x="146">Section 8</tspan><tspan x="515">0 days</tspan><tspan x="591">0 days</tspan><tspan x="670">NA</tspan><tspan x="787">NA</tspan><tspan x="902">November 24, 2021</tspan><tspan x="1018">November 24, 2021</tspan><tspan x="1134">December 2, 2021</tspan><tspan x="1258">December 2, 2021</tspan><tspan x="1374">0%</tspan><tspan x="1437">7 days</tspan><tspan x="1491">0 days</tspan><tspan x="1563">7 days</tspan></text>
<text y="938.5"><tspan x="92.5">379</tspan><tspan x="146">Section 9</tspan><tspan x="515">0 days</tspan><tspan x="591">0 days</tspan><tspan x="670">NA</tspan><tspan x="787">NA</tspan><tspan x="902">June 25, 2021</tspan><tspan x="1018">June 25, 2021</tspan><tspan x="1134">July 5, 2021</tspan><tspan x="1258">July 5, 2021</tspan><tspan x="1374">0%</tspan><tspan x="1437">7 days</tspan><tspan x="1491">0 days</tspan><tspan x="1563">7 days</tspan></text>
<text y="959.7"><tspan x="92.5">380</tspan><tspan x="146">Section 10</tspan><tspan x="515">0 days</tspan><tspan x="591">0 days</tspan><tspan x="670">NA</tspan><tspan x="787">NA</tspan><tspan x="902">May 18, 2023</tspan><tspan x="1018">May 18, 2023</tspan><tspan x="1134">May 30, 2023</tspan><tspan x="1258">May 30, 2023</tspan><tspan x="1374">0%</tspan><tspan x="1437">9 days</tspan><tspan x="1491">0 days</tspan><tspan x="1563">9 days</tspan></text>
<text y="981"><tspan x="92.5">381</tspan><tspan x="146">KD1</tspan><tspan x="515">0 days</tspan><tspan x="591">0 days</tspan><tspan x="670">NA</tspan><tspan x="787">NA</tspan><tspan x="902">August 4, 2020</tspan><tspan x="1018">August 4, 2020</tspan><tspan x="1134">August 7, 2020</tspan><tspan x="1258">August 7, 2020</tspan><tspan x="1374">0%</tspan><tspan x="1437">3 days</tspan><tspan x="1491">0 days</tspan><tspan x="1563">3 days</tspan></text>
<text y="1002.2"><tspan x="92.5">382</tspan><tspan x="146">KD2</tspan><tspan x="515">0 days</tspan><tspan x="591">0 days</tspan><tspan x="670">NA</tspan><tspan x="787">NA</tspan><tspan x="902">March 29, 2021</tspan><tspan x="1018">March 29, 2021</tspan><tspan x="1134">April 18, 2021</tspan><tspan x="1258">April 18, 2021</tspan><tspan x="1374">0%</tspan><tspan x="1437">14 days</tspan><tspan x="1491">0 days</tspan><tspan x="1563">14 days</tspan></text>
<text y="1023.5"><tspan x="92.5">383</tspan><tspan x="146">KD3</tspan><tspan x="515">0 days</tspan><tspan x="591">0 days</tspan><tspan x="670">NA</tspan><tspan x="787">NA</tspan><tspan x="902">May 21, 2021</tspan><tspan x="1018">May 21, 2021</tspan><tspan x="1134">June 1, 2021</tspan><tspan x="1258">June 1, 2021</tspan><tspan x="1374">0%</tspan><tspan x="1437">9 days</tspan><tspan x="1491">0 days</tspan><tspan x="1563">9 days</tspan></text>
<text y="1044.7"><tspan x="92.5">384</tspan><tspan x="146">KD4</tspan><tspan x="515">0 days</tspan><tspan x="591">0 days</tspan><tspan x="670">NA</tspan><tspan x="787">NA</tspan><tspan x="902">January 31, 2022</tspan><tspan x="1018">January 31, 2022</tspan><tspan x="1134">January 31, 2022</tspan><tspan x="1258">January 31, 2022</tspan><tspan x="1374">0%</tspan><tspan x="1437">0 days</tspan><tspan x="1491">0 days</tspan><tspan x="1563">0 days</tspan></text>
<text y="1066"><tspan x="92.5">385</tspan><tspan x="146">KD5</tspan><tspan x="515">0 days</tspan><tspan x="591">0 days</tspan><tspan x="670">NA</tspan><tspan x="787">NA</tspan><tspan x="902">September 17, 2021</tspan><tspan x="1018">September 17, 2021</tspan><tspan x="1134">September 17, 2021</tspan><tspan x="1258">September 17, 2021</tspan><tspan x="1374">0%</tspan><tspan x="1437">0 days</tspan><tspan x="1491">0 days</tspan><tspan x="1563">0 days</tspan></text>
<text y="1087.2"><tspan x="92.5">386</tspan><tspan x="146">KD6</tspan><tspan x="515">0 days</tspan><tspan x="591">0 days</tspan><tspan x="670">NA</tspan><tspan x="787">NA</tspan><tspan x="902">December 14, 2021</tspan><tspan x="1018">December 14, 2021</tspan><tspan x="1134">December 29, 2021</tspan><tspan x="1258">December 29, 2021</tspan><tspan x="1374">0%</tspan><tspan x="1437">11 days</tspan><tspan x="1491">0 days</tspan><tspan x="1563">11 days</tspan></text>
<text y="1108.5"><tspan x="92.5">387</tspan><tspan x="146">KD7</tspan><tspan x="515">0 days</tspan><tspan x="591">0 days</tspan><tspan x="670">NA</tspan><tspan x="787">NA</tspan><tspan x="902">May 27, 2022</tspan><tspan x="1018">May 27, 2022</tspan><tspan x="1134">June 3, 2022</tspan><tspan x="1258">June 3, 2022</tspan><tspan x="1374">0%</tspan><tspan x="1437">5 days</tspan><tspan x="1491">0 days</tspan><tspan x="1563">5 days</tspan></text>

<text class="b" y="1129.7"><tspan x="92.5" class="n">388</tspan><tspan x="133">Construction Works</tspan><tspan x="515">1499 days</tspan><tspan x="591">1491.94 days</tspan><tspan x="670">May 16, 2019</tspan><tspan x="787">NA</tspan><tspan x="902">May 16, 2019</tspan><tspan x="1018">May 29, 2024</tspan><tspan x="1134">May 16, 2019</tspan><tspan x="1258">May 29, 2024</tspan><tspan x="1374">0%</tspan><tspan x="1437">0 days</tspan><tspan x="1563">0 days</tspan></text>
<text y="1151"><tspan x="92.5">389</tspan><tspan x="146">Office Accommodation</tspan><tspan x="515">53 days</tspan><tspan x="591">32 days</tspan><tspan x="670">August 8, 2019</tspan><tspan x="787">NA</tspan><tspan x="902">August 8, 2019</tspan><tspan x="1018">October 31, 2019</tspan><tspan x="1134">August 8, 2019</tspan><tspan x="1258">January 10, 2020</tspan><tspan x="1374">40%</tspan><tspan x="1437">58 days</tspan><tspan x="1491">1 day</tspan><tspan x="1563">58 days</tspan></text>
<text class="b" y="1172.2"><tspan x="92.5" class="n">390</tspan><tspan x="146">Procurement of Materials and Equipments</tspan><tspan x="515">509 days</tspan><tspan x="591">509 days</tspan><tspan x="670">NA</tspan><tspan x="787">NA</tspan><tspan x="902">November 4, 2019</tspan><tspan x="1018">July 23, 2021</tspan><tspan x="1134">November 26, 2019</tspan><tspan x="1258">July 27, 2022</tspan><tspan x="1374">0%</tspan><tspan x="1437">19 days</tspan><tspan x="1563">19 days</tspan></text>
<text class="b" y="1193.5"><tspan x="92.5" class="n">398</tspan><tspan x="146">Excavation Permit</tspan><tspan x="515">297 days</tspan><tspan x="591">297 days</tspan><tspan x="670">NA</tspan><tspan x="787">NA</tspan><tspan x="902">October 18, 2019</tspan><tspan x="1018">October 16, 2020</tspan><tspan x="1134">November 22, 2020</tspan><tspan x="1258">November 21, 2021</tspan><tspan x="1374">0%</tspan><tspan x="1437">326 days</tspan><tspan x="1563">326 days</tspan></text>
<text y="1214.7"><tspan x="92.5">400</tspan><tspan x="146">Haul Road Diversion 3m wide within Kai Tak Sport Part</tspan><tspan x="515">152 days</tspan><tspan x="591">152 days</tspan><tspan x="670">NA</tspan><tspan x="787">NA</tspan><tspan x="902">November 1, 2019</tspan><tspan x="1018">March 31, 2020</tspan><tspan x="1134">December 30, 2023</tspan><tspan x="1258">May 29, 2024</tspan><tspan x="1374">0%</tspan><tspan x="1437">1520 d...</tspan><tspan x="1563">1520 d...</tspan></text>
<text class="b" y="1236"><tspan x="92.5" class="n">401</tspan><tspan x="146">Section 1</tspan><tspan x="515">831 days</tspan><tspan x="591">825.54 days</tspan><tspan x="670">May 16, 2019</tspan><tspan x="787">NA</tspan><tspan x="902">May 16, 2019</tspan><tspan x="1018">March 1, 2022</tspan><tspan x="1134">May 16, 2019</tspan><tspan x="1258">May 29, 2024</tspan><tspan x="1374">0%</tspan><tspan x="1437">668 days</tspan><tspan x="1563">668 days</tspan></text>
<text y="1257.2"><tspan x="92.5">402</tspan><tspan x="160">Agree Interface Coordination Plan with CKR &amp; KTSP</tspan><tspan x="515">14 days</tspan><tspan x="591">0 days</tspan><tspan x="670">August 27, 2019</tspan><tspan x="787">September 11, 2019</tspan><tspan x="902">August 27, 2019</tspan><tspan x="1018">September 11, 2019</tspan><tspan x="1134">August 27, 2019</tspan><tspan x="1258">September 11, 2019</tspan><tspan x="1374">100%</tspan><tspan x="1437">0 days</tspan><tspan x="1491">0 days</tspan><tspan x="1563">0 days</tspan></text>
<text class="b" y="1278.5"><tspan x="92.5" class="n">403</tspan><tspan x="160">Ground Investigation</tspan><tspan x="515">60 days</tspan><tspan x="591">52 days</tspan><tspan x="670" class="n">September 12, 2019</tspan><tspan x="787">NA</tspan><tspan x="902">September 12, 20...</tspan><tspan x="1018">November 23, 2019</tspan><tspan x="1134">September 12, 2019</tspan><tspan x="1258">January 10, 2020</tspan><tspan x="1374">0%</tspan><tspan x="1437">38 days</tspan><tspan x="1563">38 days</tspan></text>
<text y="1299.7"><tspan x="92.5">404</tspan><tspan x="174.5">GI Work</tspan><tspan x="515">60 days</tspan><tspan x="591">52 days</tspan><tspan x="670">September 12, 2019</tspan><tspan x="787">NA</tspan><tspan x="902">September 12, 2019</tspan><tspan x="1018">November 23, 2019</tspan><tspan x="1134">September 12, 2019</tspan><tspan x="1258">January 10, 2020</tspan><tspan x="1374">13%</tspan><tspan x="1437">38 days</tspan><tspan x="1491">0.5 days</tspan><tspan x="1563">38 days</tspan></text>
<text class="b" y="1321"><tspan x="92.5" class="n">405</tspan><tspan x="160">Part 1 - Junction Modification Rd L6 &amp; D2</tspan><tspan x="515">80 days</tspan><tspan x="591">80 days</tspan><tspan x="670">NA</tspan><tspan x="787">NA</tspan><tspan x="902">November 22, 2021</tspan><tspan x="1018">March 1, 2022</tspan><tspan x="1134">November 22, 2021</tspan><tspan x="1258">March 1, 2022</tspan><tspan x="1374">0%</tspan><tspan x="1437">0 days</tspan><tspan x="1563">0 days</tspan></text>
<text y="1342.2"><tspan x="92.5">406</tspan><tspan x="174.5">Break up existing pavement and traffic island</tspan><tspan x="515">12 days</tspan><tspan x="591">12 days</tspan><tspan x="670">NA</tspan><tspan x="787">NA</tspan><tspan x="902">November 22, 2021</tspan><tspan x="1018">December 4, 2021</tspan><tspan x="1134">November 22, 2021</tspan><tspan x="1258">December 4, 2021</tspan><tspan x="1374">0%</tspan><tspan x="1437">0 days</tspan><tspan x="1491">0 days</tspan><tspan x="1563">0 days</tspan></text>
<text y="1363.5"><tspan x="92.5">407</tspan><tspan x="174.5">Utility ducting laying (by others)</tspan><tspan x="515">25 days</tspan><tspan x="591">25 days</tspan><tspan x="670">NA</tspan><tspan x="787">NA</tspan><tspan x="902">December 6, 2021</tspan><tspan x="1018">January 6, 2022</tspan><tspan x="1134">December 6, 2021</tspan><tspan x="1258">January 6, 2022</tspan><tspan x="1374">0%</tspan><tspan x="1437">0 days</tspan><tspan x="1491">1 days</tspan><tspan x="1563">0 days</tspan></text>
<text y="1384.7"><tspan x="92.5">408</tspan><tspan x="174.5">Trim formation and lay sub base</tspan><tspan x="515">7 days</tspan><tspan x="591">7 days</tspan><tspan x="670">NA</tspan><tspan x="787">NA</tspan><tspan x="902">December 13, 2021</tspan><tspan x="1018">December 20, 2021</tspan><tspan x="1134">December 13, 2021</tspan><tspan x="1258">December 20, 2021</tspan><tspan x="1374">0%</tspan><tspan x="1437">0 days</tspan><tspan x="1491">0 days</tspan><tspan x="1563">0 days</tspan></text>
<text y="1406"><tspan x="92.5">409</tspan><tspan x="174.5">Lay kerb</tspan><tspan x="515">12 days</tspan><tspan x="591">12 days</tspan><tspan x="670">NA</tspan><tspan x="787">NA</tspan><tspan x="902">December 21, 2021</tspan><tspan x="1018">January 6, 2022</tspan><tspan x="1134">December 21, 2021</tspan><tspan x="1258">January 6, 2022</tspan><tspan x="1374">0%</tspan><tspan x="1437">0 days</tspan><tspan x="1491">0 days</tspan><tspan x="1563">0 days</tspan></text>
<text y="1427.2"><tspan x="92.5">410</tspan><tspan x="174.5">Construct pedestrian street/ footpath</tspan><tspan x="515">7 days</tspan><tspan x="591">7 days</tspan><tspan x="670">NA</tspan><tspan x="787">NA</tspan><tspan x="902">January 7, 2022</tspan><tspan x="1018">January 14, 2022</tspan><tspan x="1134">January 7, 2022</tspan><tspan x="1258">January 14, 2022</tspan><tspan x="1374">0%</tspan><tspan x="1437">0 days</tspan><tspan x="1491">0 days</tspan><tspan x="1563">0 days</tspan></text>
<text y="1448.5"><tspan x="92.5">411</tspan><tspan x="174.5">Install central median</tspan><tspan x="515">12 days</tspan><tspan x="591">12 days</tspan><tspan x="670">NA</tspan><tspan x="787">NA</tspan><tspan x="902">January 15, 2022</tspan><tspan x="1018">January 28, 2022</tspan><tspan x="1134">January 15, 2022</tspan><tspan x="1258">January 28, 2022</tspan><tspan x="1374">0%</tspan><tspan x="1437">0 days</tspan><tspan x="1491">0 days</tspan><tspan x="1563">0 days</tspan></text>
<text y="1469.7"><tspan x="92.5">412</tspan><tspan x="174.5">Concrete infill between profile barrier</tspan><tspan x="515">4 days</tspan><tspan x="591">4 days</tspan><tspan x="670">NA</tspan><tspan x="787">NA</tspan><tspan x="902">January 29, 2022</tspan><tspan x="1018">February 5, 2022</tspan><tspan x="1134">January 29, 2022</tspan><tspan x="1258">February 5, 2022</tspan><tspan x="1374">0%</tspan><tspan x="1437">0 days</tspan><tspan x="1491">0 days</tspan><tspan x="1563">0 days</tspan></text>
<text y="1491"><tspan x="92.5">413</tspan><tspan x="174.5">Road pavement</tspan><tspan x="515">5 days</tspan><tspan x="591">5 days</tspan><tspan x="670">NA</tspan><tspan x="787">NA</tspan><tspan x="902">February 7, 2022</tspan><tspan x="1018">February 11, 2022</tspan><tspan x="1134">February 7, 2022</tspan><tspan x="1258">February 11, 2022</tspan><tspan x="1374">0%</tspan><tspan x="1437">0 days</tspan><tspan x="1491">0 days</tspan><tspan x="1563">0 days</tspan></text>
<text y="1512.2"><tspan x="92.5">414</tspan><tspan x="174.5">Install street furniture</tspan><tspan x="515">15 days</tspan><tspan x="591">15 days</tspan><tspan x="670">NA</tspan><tspan x="787">NA</tspan><tspan x="902">February 12, 2022</tspan><tspan x="1018">March 1, 2022</tspan><tspan x="1134">February 12, 2022</tspan><tspan x="1258">March 1, 2022</tspan><tspan x="1374">0%</tspan><tspan x="1437">0 days</tspan><tspan x="1491">1 days</tspan><tspan x="1563">0 days</tspan></text>
<text class="b" y="1533.5"><tspan x="92.5" class="n">415</tspan><tspan x="160">Part 1 - Road D3 CH1000-1087</tspan><tspan x="515">269 days</tspan><tspan x="591">269 days</tspan><tspan x="670">NA</tspan><tspan x="787">NA</tspan><tspan x="902">January 5, 2021</tspan><tspan x="1018">November 29, 2021</tspan><tspan x="1134">February 25, 2021</tspan><tspan x="1258">March 1, 2022</tspan><tspan x="1374">0%</tspan><tspan x="1437">41 days</tspan><tspan x="1563">41 days</tspan></text>

<!-- ================= structural lines ================= -->
<path d="M74 103H2405" stroke="#B0B0B0" stroke-width="2"/>
<path d="M74 158H2404" stroke="#A8A8A8" stroke-width="1.5"/>
<path d="M74 1541H2405" stroke="#A8A8A8" stroke-width="1.5"/>
<path d="M1614 103V1541" stroke="#999" stroke-width="1.2"/>
<path d="M2403.5 103V1541" stroke="#A0A0A0" stroke-width="1"/>
<path d="M74 1583H2405" stroke="#8A8A8A" stroke-width="2"/>
<path d="M74 1651H2405" stroke="#8A8A8A" stroke-width="2"/>
<path d="M256 1583V1651" stroke="#8A8A8A" stroke-width="1"/>
<rect x="74.5" y="75.5" width="2330.5" height="1602" fill="none" stroke="#8F8F8F" stroke-width="1.5"/>
<path d="M74 1678H2405" stroke="#BBBBBB" stroke-width="3"/>

<!-- ================= legend ================= -->
<text x="81" y="1604.5">Title: Revised Programme-</text>
<text x="117" y="1621">ED/2018/01 with Progress</text>
<text x="108" y="1636.5">Update as of 22-Sep-19</text>

<text class="lg" y="1599"><tspan x="269">Critical</tspan><tspan x="460">Task</tspan><tspan x="653">Manual Task</tspan><tspan x="844">Duration-only</tspan><tspan x="1036">Baseline Milestone</tspan><tspan x="1227">Summary</tspan><tspan x="1419">External Tasks</tspan><tspan x="1610">Inactive Milestone</tspan><tspan x="1802">Baseline Summary</tspan></text>
<text class="lg" y="1620"><tspan x="269">Critical Split</tspan><tspan x="460">Split</tspan><tspan x="653">Start-only</tspan><tspan x="844">Baseline</tspan><tspan x="1036">Milestone</tspan><tspan x="1227">Manual Summary</tspan><tspan x="1419">External Milestone</tspan><tspan x="1610">Inactive Summary</tspan></text>
<text class="lg" y="1640"><tspan x="269">Critical Progress</tspan><tspan x="460">Task Progress</tspan><tspan x="653">Finish-only</tspan><tspan x="844">Baseline Split</tspan><tspan x="1036">Summary Progress</tspan><tspan x="1227">Project Summary</tspan><tspan x="1419">Inactive Task</tspan><tspan x="1610">Deadline</tspan></text>

<rect x="357" y="1592.5" width="92" height="5" fill="#FFB6B6"/>
<path d="M361 1616.5H447" stroke="#E02020" stroke-width="6" stroke-dasharray="1 3"/>
<rect x="357" y="1632.5" width="92" height="5" fill="#FF0000"/>

<rect x="548" y="1592.5" width="92" height="5" fill="#8DB4E2"/>
<path d="M551 1616.5H639" stroke="#3A7BD5" stroke-width="6" stroke-dasharray="1 3"/>
<rect x="548" y="1632.5" width="92" height="5" fill="#3A7BD5"/>

<rect x="740" y="1592.5" width="91" height="5" fill="#76CFD3"/>
<path d="M745 1612.5H741V1621H745" stroke="#1B8A8F" stroke-width="1.5" fill="none"/>
<path d="M743 1632.5H747V1641H743" stroke="#1B8A8F" stroke-width="1.5" fill="none"/>

<rect x="931" y="1592.5" width="92" height="5" fill="#7ACDD2"/>
<rect x="931" y="1617" width="92" height="5" fill="#666"/>
<path d="M933 1636.5H1022" stroke="#777" stroke-width="6" stroke-dasharray="1 3"/>

<polygon points="1124.5,1595 1127.6,1591 1130.7,1595 1127.6,1599" fill="#fff" stroke="#888" stroke-width="0.8"/>
<polygon points="1124.3,1616.5 1127.6,1612.3 1130.9,1616.5 1127.6,1620.7" fill="#444"/>
<rect x="1123" y="1634" width="91" height="5" fill="#8A8A8A"/>

<rect x="1319" y="1592" width="84" height="3" fill="#555"/><rect x="1319" y="1592" width="2" height="8" fill="#555"/><rect x="1401" y="1592" width="2" height="8" fill="#555"/>
<rect x="1319" y="1613" width="84" height="3" fill="#555"/><rect x="1319" y="1613" width="2" height="8" fill="#555"/><rect x="1401" y="1613" width="2" height="8" fill="#555"/>
<rect x="1319" y="1632" width="84" height="3" fill="#AAA"/><rect x="1319" y="1632" width="2" height="8" fill="#AAA"/><rect x="1401" y="1632" width="2" height="8" fill="#AAA"/>

<rect x="1506" y="1592.5" width="91" height="5" fill="#C8C8C8"/>
<polygon points="1508,1616.5 1511,1612.5 1514,1616.5 1511,1620.5" fill="#AAA"/>
<rect x="1506.5" y="1633" width="90" height="4" fill="#fff" stroke="#CCC" stroke-width="0.8"/>

<polygon points="1698,1595 1701,1591 1704,1595 1701,1599" fill="#fff" stroke="#CCC" stroke-width="0.8"/>
<rect x="1701" y="1613" width="84" height="2.5" fill="#DDD"/><rect x="1701" y="1613" width="1.5" height="8" fill="#CCC"/><rect x="1783.5" y="1613" width="1.5" height="8" fill="#CCC"/>
<path d="M1701 1630.5V1636" stroke="#7CB342" stroke-width="1.5"/>
<polygon points="1697.5,1635.5 1704.5,1635.5 1701,1640" fill="#7CB342"/>

<rect x="1893" y="1592" width="82" height="3.5" fill="#777"/><rect x="1893" y="1590" width="1.5" height="9" fill="#777"/><rect x="1973.5" y="1590" width="1.5" height="9" fill="#777"/>

<text x="1222" y="1670.5">Page 8</text>
</svg>
</body></html>
